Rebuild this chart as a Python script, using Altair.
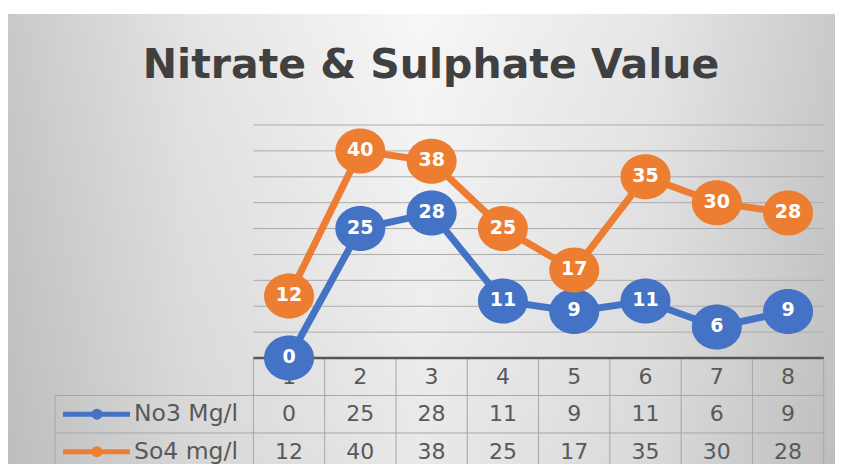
import altair as alt
import pandas as pd

# ---- data ----
categories = [1, 2, 3, 4, 5, 6, 7, 8]
no3_values = [0, 25, 28, 11, 9, 11, 6, 9]
so4_values = [12, 40, 38, 25, 17, 35, 30, 28]
series_names = ["No3 Mg/l", "So4 mg/l"]
series_colors = ["#4472C4", "#ED7D31"]
grid_values = [5, 10, 15, 20, 25, 30, 35, 40, 45]
title_text = "Nitrate & Sulphate Value"

# ---- layout (scale units) ----
W, H = 827, 450
X_DOMAIN = [-2.942, 8.658]
Y_DOMAIN = [-20.47, 66.44]
ROW_H = 7.24
LEG_LEFT = -2.283
COL_L, COL_R = 0.5, 8.5
LEG_ICON = (-2.171, -1.231, -1.694)
LEG_TEXT_X = -1.175

xs = alt.Scale(domain=X_DOMAIN, nice=False, zero=False)
ys = alt.Scale(domain=Y_DOMAIN, nice=False, zero=False)
color_scale = alt.Scale(domain=series_names, range=series_colors)

TXT = "#595959"
GRID = "#ababab"

# long table of the series
rows = []
for name, vals in zip(series_names, [no3_values, so4_values]):
    for c, v in zip(categories, vals):
        rows.append({"category": c, "value": v, "series": name})
df = pd.DataFrame(rows)

empty = alt.Data(values=[{}])

# ---- background ----
bg = alt.Chart(empty).mark_rect(
    fill={"gradient": "linear", "x1": 0, "y1": 0, "x2": 1, "y2": 0,
          "stops": [{"offset": 0, "color": "#c9c9c9"},
                    {"offset": 0.22, "color": "#e4e4e4"},
                    {"offset": 0.5, "color": "#f7f7f7"},
                    {"offset": 0.78, "color": "#e6e6e6"},
                    {"offset": 1, "color": "#cacaca"}]}
).encode(x=alt.value(0), x2=alt.value(W), y=alt.value(0), y2=alt.value(H))

shade = alt.Chart(empty).mark_rect(
    fill={"gradient": "linear", "x1": 0, "y1": 0, "x2": 0, "y2": 1,
          "stops": [{"offset": 0, "color": "rgba(0,0,0,0)"},
                    {"offset": 1, "color": "rgba(0,0,0,0.06)"}]}
).encode(x=alt.value(0), x2=alt.value(W), y=alt.value(0), y2=alt.value(H))

# ---- gridlines ----
grid = alt.Chart(pd.DataFrame({"v": grid_values})).mark_rule(
    color=GRID, strokeWidth=1
).encode(
    y=alt.Y("v:Q", scale=ys, axis=None),
    x=alt.X(datum=COL_L, scale=xs, axis=None),
    x2=alt.X2(datum=COL_R),
)

# ---- data table lines ----
segs = []
for i in range(len(categories) + 1):
    b = COL_L + i
    segs.append({"x": b, "x2": b, "y": 0, "y2": -3 * ROW_H})
segs.append({"x": LEG_LEFT, "x2": LEG_LEFT, "y": -ROW_H, "y2": -3 * ROW_H})
for k in (1, 2, 3):
    segs.append({"x": LEG_LEFT, "x2": COL_R, "y": -k * ROW_H, "y2": -k * ROW_H})
table_lines = alt.Chart(pd.DataFrame(segs)).mark_rule(
    color="#a6a6a6", strokeWidth=1
).encode(
    x=alt.X("x:Q", scale=xs, axis=None), x2="x2:Q",
    y=alt.Y("y:Q", scale=ys, axis=None), y2="y2:Q",
)

axis_line = alt.Chart(empty).mark_rule(color="#555555", strokeWidth=2.5).encode(
    x=alt.X(datum=COL_L, scale=xs, axis=None), x2=alt.X2(datum=COL_R),
    y=alt.Y(datum=0, scale=ys, axis=None),
)

# header row (category labels)
hdr_df = pd.DataFrame({"category": categories, "y": [-ROW_H / 2] * len(categories),
                       "label": [str(c) for c in categories]})
header_txt = alt.Chart(hdr_df).mark_text(
    font="DejaVu Sans", fontSize=22, color=TXT, baseline="middle", align="center"
).encode(
    x=alt.X("category:Q", scale=xs, axis=None),
    y=alt.Y("y:Q", scale=ys, axis=None),
    text="label:N",
)

# value rows
row_y = {name: -(1.5 + i) * ROW_H for i, name in enumerate(series_names)}
tdf = df.copy()
tdf["y"] = tdf["series"].map(row_y)
row_txt = alt.Chart(tdf).mark_text(
    font="DejaVu Sans", fontSize=22, color=TXT, baseline="middle", align="center"
).encode(
    x=alt.X("category:Q", scale=xs, axis=None),
    y=alt.Y("y:Q", scale=ys, axis=None),
    text="value:Q",
)

# legend column
leg_df = pd.DataFrame({"series": series_names,
                       "y": [row_y[n] for n in series_names],
                       "x0": [LEG_ICON[0]] * 2, "x1": [LEG_ICON[1]] * 2,
                       "xm": [LEG_ICON[2]] * 2, "xt": [LEG_TEXT_X] * 2})
leg_lines = alt.Chart(leg_df).mark_rule(strokeWidth=5).encode(
    x=alt.X("x0:Q", scale=xs, axis=None), x2="x1:Q",
    y=alt.Y("y:Q", scale=ys, axis=None),
    color=alt.Color("series:N", scale=color_scale, legend=None),
)
leg_pts = alt.Chart(leg_df).mark_point(filled=True, opacity=1, size=120, shape="circle").encode(
    x=alt.X("xm:Q", scale=xs, axis=None),
    y=alt.Y("y:Q", scale=ys, axis=None),
    color=alt.Color("series:N", scale=color_scale, legend=None),
)
leg_txt = alt.Chart(leg_df).mark_text(
    font="DejaVu Sans", fontSize=23.5, color=TXT, baseline="middle", align="left"
).encode(
    x=alt.X("xt:Q", scale=xs, axis=None),
    y=alt.Y("y:Q", scale=ys, axis=None),
    text="series:N",
)

# ---- series lines / markers / labels ----
ELLIPSE = ("M -1.111 0 C -1.111 -0.5523 -0.6136 -1 0 -1 "
           "C 0.6136 -1 1.111 -0.5523 1.111 0 "
           "C 1.111 0.5523 0.6136 1 0 1 "
           "C -0.6136 1 -1.111 0.5523 -1.111 0 Z")

series_layers = []
line_layers = []
for name in series_names:
    base = alt.Chart(df).transform_filter(alt.datum.series == name).encode(
        x=alt.X("category:Q", scale=xs, axis=None),
        y=alt.Y("value:Q", scale=ys, axis=None),
        color=alt.Color("series:N", scale=color_scale, legend=None),
    )
    line_layers.append(base.mark_line(strokeWidth=7))
    series_layers.append(base.mark_point(filled=True, opacity=1, size=2025,
                                         shape=ELLIPSE, strokeWidth=0))
    series_layers.append(base.mark_text(font="DejaVu Sans", fontWeight="bold",
                                        fontSize=19, color="white",
                                        baseline="middle", dy=-1).encode(
        text="value:Q", color=alt.value("white")))

title = alt.Chart(empty).mark_text(
    text=title_text, font="DejaVu Sans", fontWeight="bold", fontSize=41,
    color="#404040", align="center", baseline="alphabetic"
).encode(x=alt.value(423), y=alt.value(64))

chart = alt.layer(
    bg, shade, grid, table_lines, axis_line, header_txt, row_txt,
    leg_lines, leg_pts, leg_txt, *line_layers, *series_layers, title
).properties(
    width=W, height=H,
    autosize=alt.AutoSizeParams(type="none"),
    padding={"left": 0, "top": 6, "right": 0, "bottom": 0},
).configure_view(strokeWidth=0)

chart.save("out.html", embed_options={"renderer": "svg", "actions": False})
